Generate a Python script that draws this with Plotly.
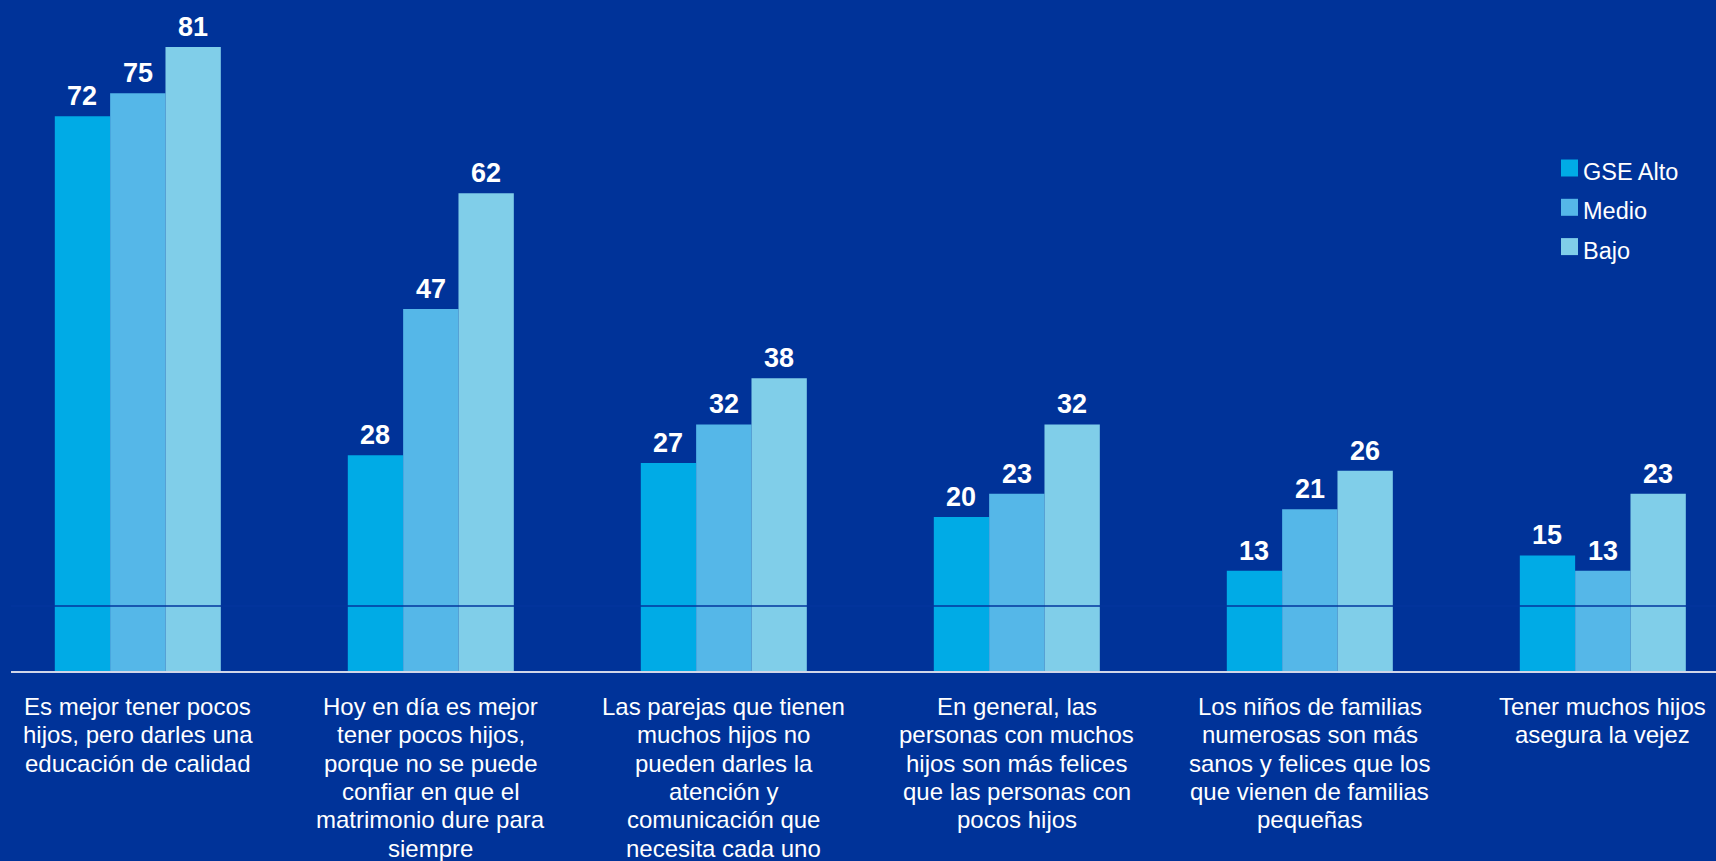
import plotly.graph_objects as go

categories = [
    "Es mejor tener pocos\nhijos, pero darles una\neducación de calidad",
    "Hoy en día es mejor\ntener pocos hijos,\nporque no se puede\nconfiar en que el\nmatrimonio dure para\nsiempre",
    "Las parejas que tienen\nmuchos hijos no\npueden darles la\natención y\ncomunicación que\nnecesita cada uno",
    "En general, las\npersonas con muchos\nhijos son más felices\nque las personas con\npocos hijos",
    "Los niños de familias\nnumerosas son más\nsanos y felices que los\nque vienen de familias\npequeñas",
    "Tener muchos hijos\nasegura la vejez",
]
series_names = ["GSE Alto", "Medio", "Bajo"]
alto = [72, 28, 27, 20, 13, 15]
medio = [75, 47, 32, 23, 21, 13]
bajo = [81, 62, 38, 32, 26, 23]
series_values = [alto, medio, bajo]
colors = ["#00ABE6", "#55B7E8", "#80CEE9"]

BG = "#003399"
FONT = "Liberation Sans, Arial, sans-serif"
W, H = 1716, 861
ML, MR, MT, MB = 11, 0, 0, 190
PW, PH = W - ML - MR, H - MT - MB
BARGAP = 0.4334

x_idx = list(range(len(categories)))
n_series = len(series_names)
bar_w = (1 - BARGAP) / n_series

fig = go.Figure()
for k, (name, vals, col) in enumerate(zip(series_names, series_values, colors)):
    fig.add_trace(go.Bar(
        x=x_idx, y=vals, name=name, marker=dict(color=col, line=dict(width=0)),
        showlegend=False, hoverinfo="y+name",
    ))
    # value labels above bars
    off = (k - (n_series - 1) / 2) * bar_w
    for i, v in zip(x_idx, vals):
        fig.add_annotation(x=i + off, xref="x", y=v, yref="y", text=str(v), showarrow=False,
                           xanchor="center", yanchor="bottom", yshift=3,
                           font=dict(family=FONT, size=27, color="white", weight=700))

# dark line across bars
fig.add_shape(type="line", xref="paper", yref="y", x0=0, x1=1, y0=8.45, y1=8.45,
              line=dict(color="#03369E", width=1.5), layer="above")

# category labels, one annotation per line
for i, lab in enumerate(categories):
    for j, line in enumerate(lab.split("\n")):
        fig.add_annotation(x=i, xref="x", y=0, yref="y", text=line, showarrow=False,
                           xanchor="center", yanchor="top", yshift=-20 - j * 28.3,
                           font=dict(family=FONT, size=24, color="white"))

# manual legend
def px_to_paper(px, py):
    return (px - ML) / PW, (H - MB - py) / PH

for k, (name, col) in enumerate(zip(series_names, colors)):
    cy = 168 + k * 39.3
    x0, y0 = px_to_paper(1561, cy - 8.5)
    x1, y1 = px_to_paper(1578, cy + 8.5)
    fig.add_shape(type="rect", xref="paper", yref="paper", x0=x0, x1=x1, y0=y0, y1=y1,
                  fillcolor=col, line=dict(width=0))
    tx, ty = px_to_paper(1581, cy + 4)
    fig.add_annotation(x=tx, y=ty, xref="paper", yref="paper", text=name, showarrow=False,
                       xanchor="left", yanchor="middle",
                       font=dict(family=FONT, size=23.5, color="white"))

fig.update_layout(
    width=W, height=H,
    paper_bgcolor=BG, plot_bgcolor=BG,
    margin=dict(l=ML, r=MR, t=MT, b=MB, pad=0),
    barmode="group", bargap=BARGAP, bargroupgap=0,
    showlegend=False,
    xaxis=dict(range=[-0.4328, 5.3863], showticklabels=False, ticks="", showgrid=False,
               zeroline=False, showline=True, linecolor="#D0D6E8", linewidth=2),
    yaxis=dict(range=[0, 87.1], visible=False, showgrid=False, zeroline=False),
    font=dict(family=FONT, color="white"),
)

fig.write_html("out.html",
               config={"displayModeBar": False},
               post_script="document.body.style.margin='0';document.body.style.overflow='hidden';document.body.style.background='" + BG + "';")
